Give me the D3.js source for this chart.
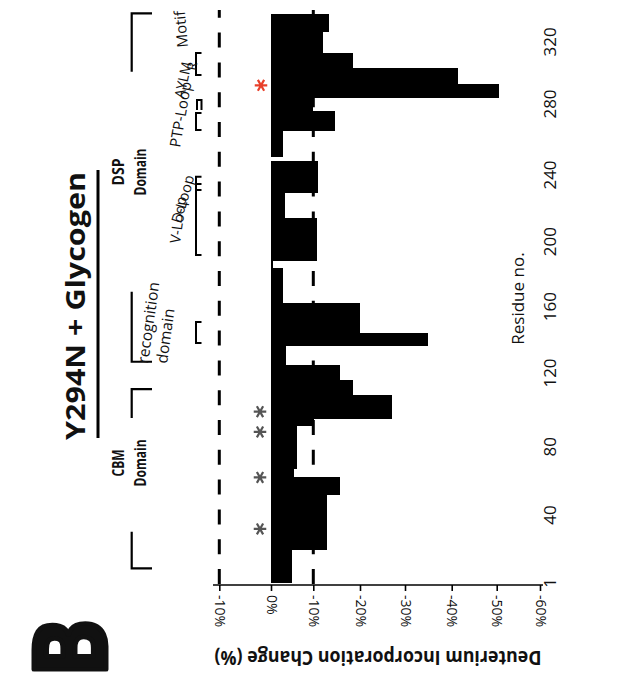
<!DOCTYPE html>
<html><head><meta charset="utf-8">
<script src="https://cdn.jsdelivr.net/npm/d3@7"></script>
<style>
body{margin:0;background:#fff}
svg{display:block}
text{font-family:"Open Sans","Noto Sans","DejaVu Sans",sans-serif;fill:#111}
</style>
</head><body>
<svg id="chart" width="634" height="685"></svg>
<script>
// ---------------- data ----------------
const segStart   = [1,20,52,62,67,91,95,108,116,125,136,144,162,184,188,214,229,250,265,276,284,293,303,313,326];
const segEnd     = [20,52,62,67,91,95,108,116,125,136,144,162,184,188,214,229,248,265,276,284,293,303,313,326,338];
const deutChange = [-4.9,-12.9,-15.7,-5.5,-6.1,-10.1,-27.2,-18.6,-15.7,-3.5,-34.9,-19.9,-2.9,-0.4,-10.7,-3.3,-11.1,-2.9,-14.6,-9.9,-50.6,-41.5,-18.4,-12.1,-13.4];
const changeTicks      = [10,0,-10,-20,-30,-40,-50,-60];
const changeTickLabels = ["-10%","0%","-10%","-20%","-30%","-40%","-50%","-60%"];
const residueTicks     = [1,40,80,120,160,200,240,280,320];
const thresholds       = [10,-10];
const sigResidues      = [32,62,88,99];
const mutationResidue  = [292];
// domain annotations
const domainNames   = [["CBM","Domain"],["DSP","Domain"]];
const domainStart   = [9.4,126.8];
const domainGapLo   = [30.4,169.2];
const domainGapHi   = [95.6,300.8];
const domainEnd     = [111.3,338.3];
const domainLabelAt = [70.5,241.7];
// motif annotations
const motifNames = ["recognition domain","V-Loop","D-Loop","PTP-Loop","AYLMR Motif"];
const motifStart = [138.1,191.8,231,265.4,298.6];
const motifEnd   = [150.8,239,234.6,274.9,312.8];

// ---------------- scales ----------------
const svg = d3.select("#chart");
const x = d3.scaleLinear().domain(changeTicks).range([219.3,271,313.3,360,405,451.7,496.7,540]);
const y = d3.scaleLinear().domain(residueTicks).range([583,515,446.7,373,306.7,241.7,175,104,41.8]);

// bars
svg.append("g").attr("shape-rendering","crispEdges")
  .selectAll("rect").data(d3.range(deutChange.length)).join("rect")
  .attr("x", x(0))
  .attr("y", i => y(segEnd[i]))
  .attr("width", i => x(deutChange[i]) - x(0))
  .attr("height", i => y(segStart[i]) - y(segEnd[i]))
  .attr("fill", "#000");

// dashed threshold lines
svg.append("g").selectAll("line").data(thresholds).join("line")
  .attr("x1", d => x(d)).attr("x2", d => x(d))
  .attr("y1", 584).attr("y2", 10)
  .attr("stroke", "#000").attr("stroke-width", 3)
  .attr("stroke-dasharray", "15,14.8");

// bottom axis (deuterium change)
const axisY = 585;
const ax = svg.append("g").attr("transform", `translate(0,${axisY})`)
  .call(d3.axisBottom(x).tickValues(changeTicks).tickSize(6).tickSizeOuter(0)
        .tickFormat((d,i) => changeTickLabels[i]));
ax.select(".domain").remove();
ax.append("line").attr("x1", 213).attr("x2", 543).attr("stroke", "#000").attr("stroke-width", 1.6);
ax.selectAll(".tick line").attr("stroke", "#000").attr("stroke-width", 1.6);
ax.selectAll(".tick text")
  .attr("font-size", 14).attr("font-family", "'Open Sans',sans-serif").attr("fill", "#111")
  .attr("text-anchor", "start")
  .attr("transform", "translate(0,10) rotate(90)")
  .attr("x", 0).attr("y", 0).attr("dy", "0.35em");

// residue labels
svg.append("g").selectAll("text").data(residueTicks).join("text")
  .attr("transform", d => `translate(550,${y(d)}) rotate(-90)`)
  .attr("text-anchor", "middle").attr("dy", "0.35em")
  .attr("font-size", 17).text(d => d);
svg.append("text")
  .attr("transform", `translate(518,${y(165)}) rotate(-90)`)
  .attr("text-anchor", "middle").attr("dy", "0.35em")
  .attr("font-size", 17).text("Residue no.");

// axis title (upside down)
svg.append("text")
  .attr("transform", "translate(378,651) rotate(180)")
  .attr("text-anchor", "middle").attr("font-size", 19).attr("font-weight", 700)
  .attr("textLength", 327).attr("lengthAdjust", "spacingAndGlyphs")
  .text("Deuterium Incorporation Change (%)");

// panel letter
svg.append("text")
  .attr("transform", "translate(106,648) rotate(-90) scale(0.87,1)")
  .attr("text-anchor", "middle").attr("font-size", 100).attr("font-weight", 700)
  .attr("font-family", "'DejaVu Sans',sans-serif")
  .attr("stroke", "#111").attr("stroke-width", 5).attr("stroke-linejoin", "round")
  .text("B");

// title
svg.append("text")
  .attr("transform", "translate(85,306) rotate(-90)")
  .attr("text-anchor", "middle").attr("font-size", 27).attr("font-weight", 700)
  .attr("textLength", 268).attr("lengthAdjust", "spacingAndGlyphs")
  .text("Y294N + Glycogen");
svg.append("line").attr("x1", 98).attr("x2", 98).attr("y1", 170).attr("y2", 438)
  .attr("stroke", "#000").attr("stroke-width", 3);

// domain brackets
const bx0 = 131.7, bx1 = 152;
domainNames.forEach((nm, i) => {
  const p = d3.path();
  p.moveTo(bx1, y(domainStart[i])); p.lineTo(bx0, y(domainStart[i])); p.lineTo(bx0, y(domainGapLo[i]));
  p.moveTo(bx0, y(domainGapHi[i])); p.lineTo(bx0, y(domainEnd[i])); p.lineTo(bx1, y(domainEnd[i]));
  svg.append("path").attr("d", p.toString()).attr("fill", "none").attr("stroke", "#000").attr("stroke-width", 2.2);
  const cy = y(domainLabelAt[i]);
  svg.append("text").attr("transform", `translate(118,${cy}) rotate(-90)`)
    .attr("text-anchor", "middle").attr("dy", "0.35em").attr("font-size", 16).attr("font-weight", 700)
    .attr("textLength", 27).attr("lengthAdjust", "spacingAndGlyphs").text(nm[0]);
  svg.append("text").attr("transform", `translate(140,${cy}) rotate(-90)`)
    .attr("text-anchor", "middle").attr("dy", "0.35em").attr("font-size", 16).attr("font-weight", 700)
    .attr("textLength", 47).attr("lengthAdjust", "spacingAndGlyphs").text(nm[1]);
});

// motif brackets
const mx0 = 196, mx1 = 201.5;
motifNames.forEach((nm, i) => {
  const p = d3.path();
  p.moveTo(mx1, y(motifStart[i])); p.lineTo(mx0, y(motifStart[i])); p.lineTo(mx0, y(motifEnd[i])); p.lineTo(mx1, y(motifEnd[i]));
  svg.append("path").attr("d", p.toString()).attr("fill", "none").attr("stroke", "#000").attr("stroke-width", 2);
});
// small cap mark inside PTP loop
{
  const p = d3.path();
  p.moveTo(197, y(276.6)); p.lineTo(197, y(282.6)); p.lineTo(201.5, y(282.6)); p.lineTo(201.5, y(276.6));
  svg.append("path").attr("d", p.toString()).attr("fill", "none").attr("stroke", "#000").attr("stroke-width", 2);
}

// motif labels (slanted)
const lab = (t, px, py, ang, fs) => svg.append("text")
  .attr("transform", `translate(${px},${py}) rotate(${ang})`)
  .attr("font-size", fs).text(t);
lab("recognition", 148, 364, -82, 15.5);
lab("domain", 167, 364, -82, 15.5);
lab("V-Loop", 180, 244, -82, 14.5);
lab("D-Loop", 181, 224, -74, 14.5);
lab("PTP-Loop", 180, 148, -80, 15);
lab("AYLM", 184, 99, -78, 14);
lab("R", 196, 71, -80, 13);
lab("Motif", 188, 47, -95, 15);

// asterisks
const star = d3.symbol(d3.symbolAsterisk, 110);
svg.append("g").selectAll("path").data(sigResidues).join("path")
  .attr("d", star).attr("transform", d => `translate(260,${y(d)}) rotate(90)`)
  .attr("fill", "none").attr("stroke", "#555").attr("stroke-width", 2.2);
svg.append("g").selectAll("path").data(mutationResidue).join("path")
  .attr("d", star).attr("transform", d => `translate(261,${y(d)}) rotate(90)`)
  .attr("fill", "none").attr("stroke", "#e8402a").attr("stroke-width", 2.2);
</script>
</body></html>
